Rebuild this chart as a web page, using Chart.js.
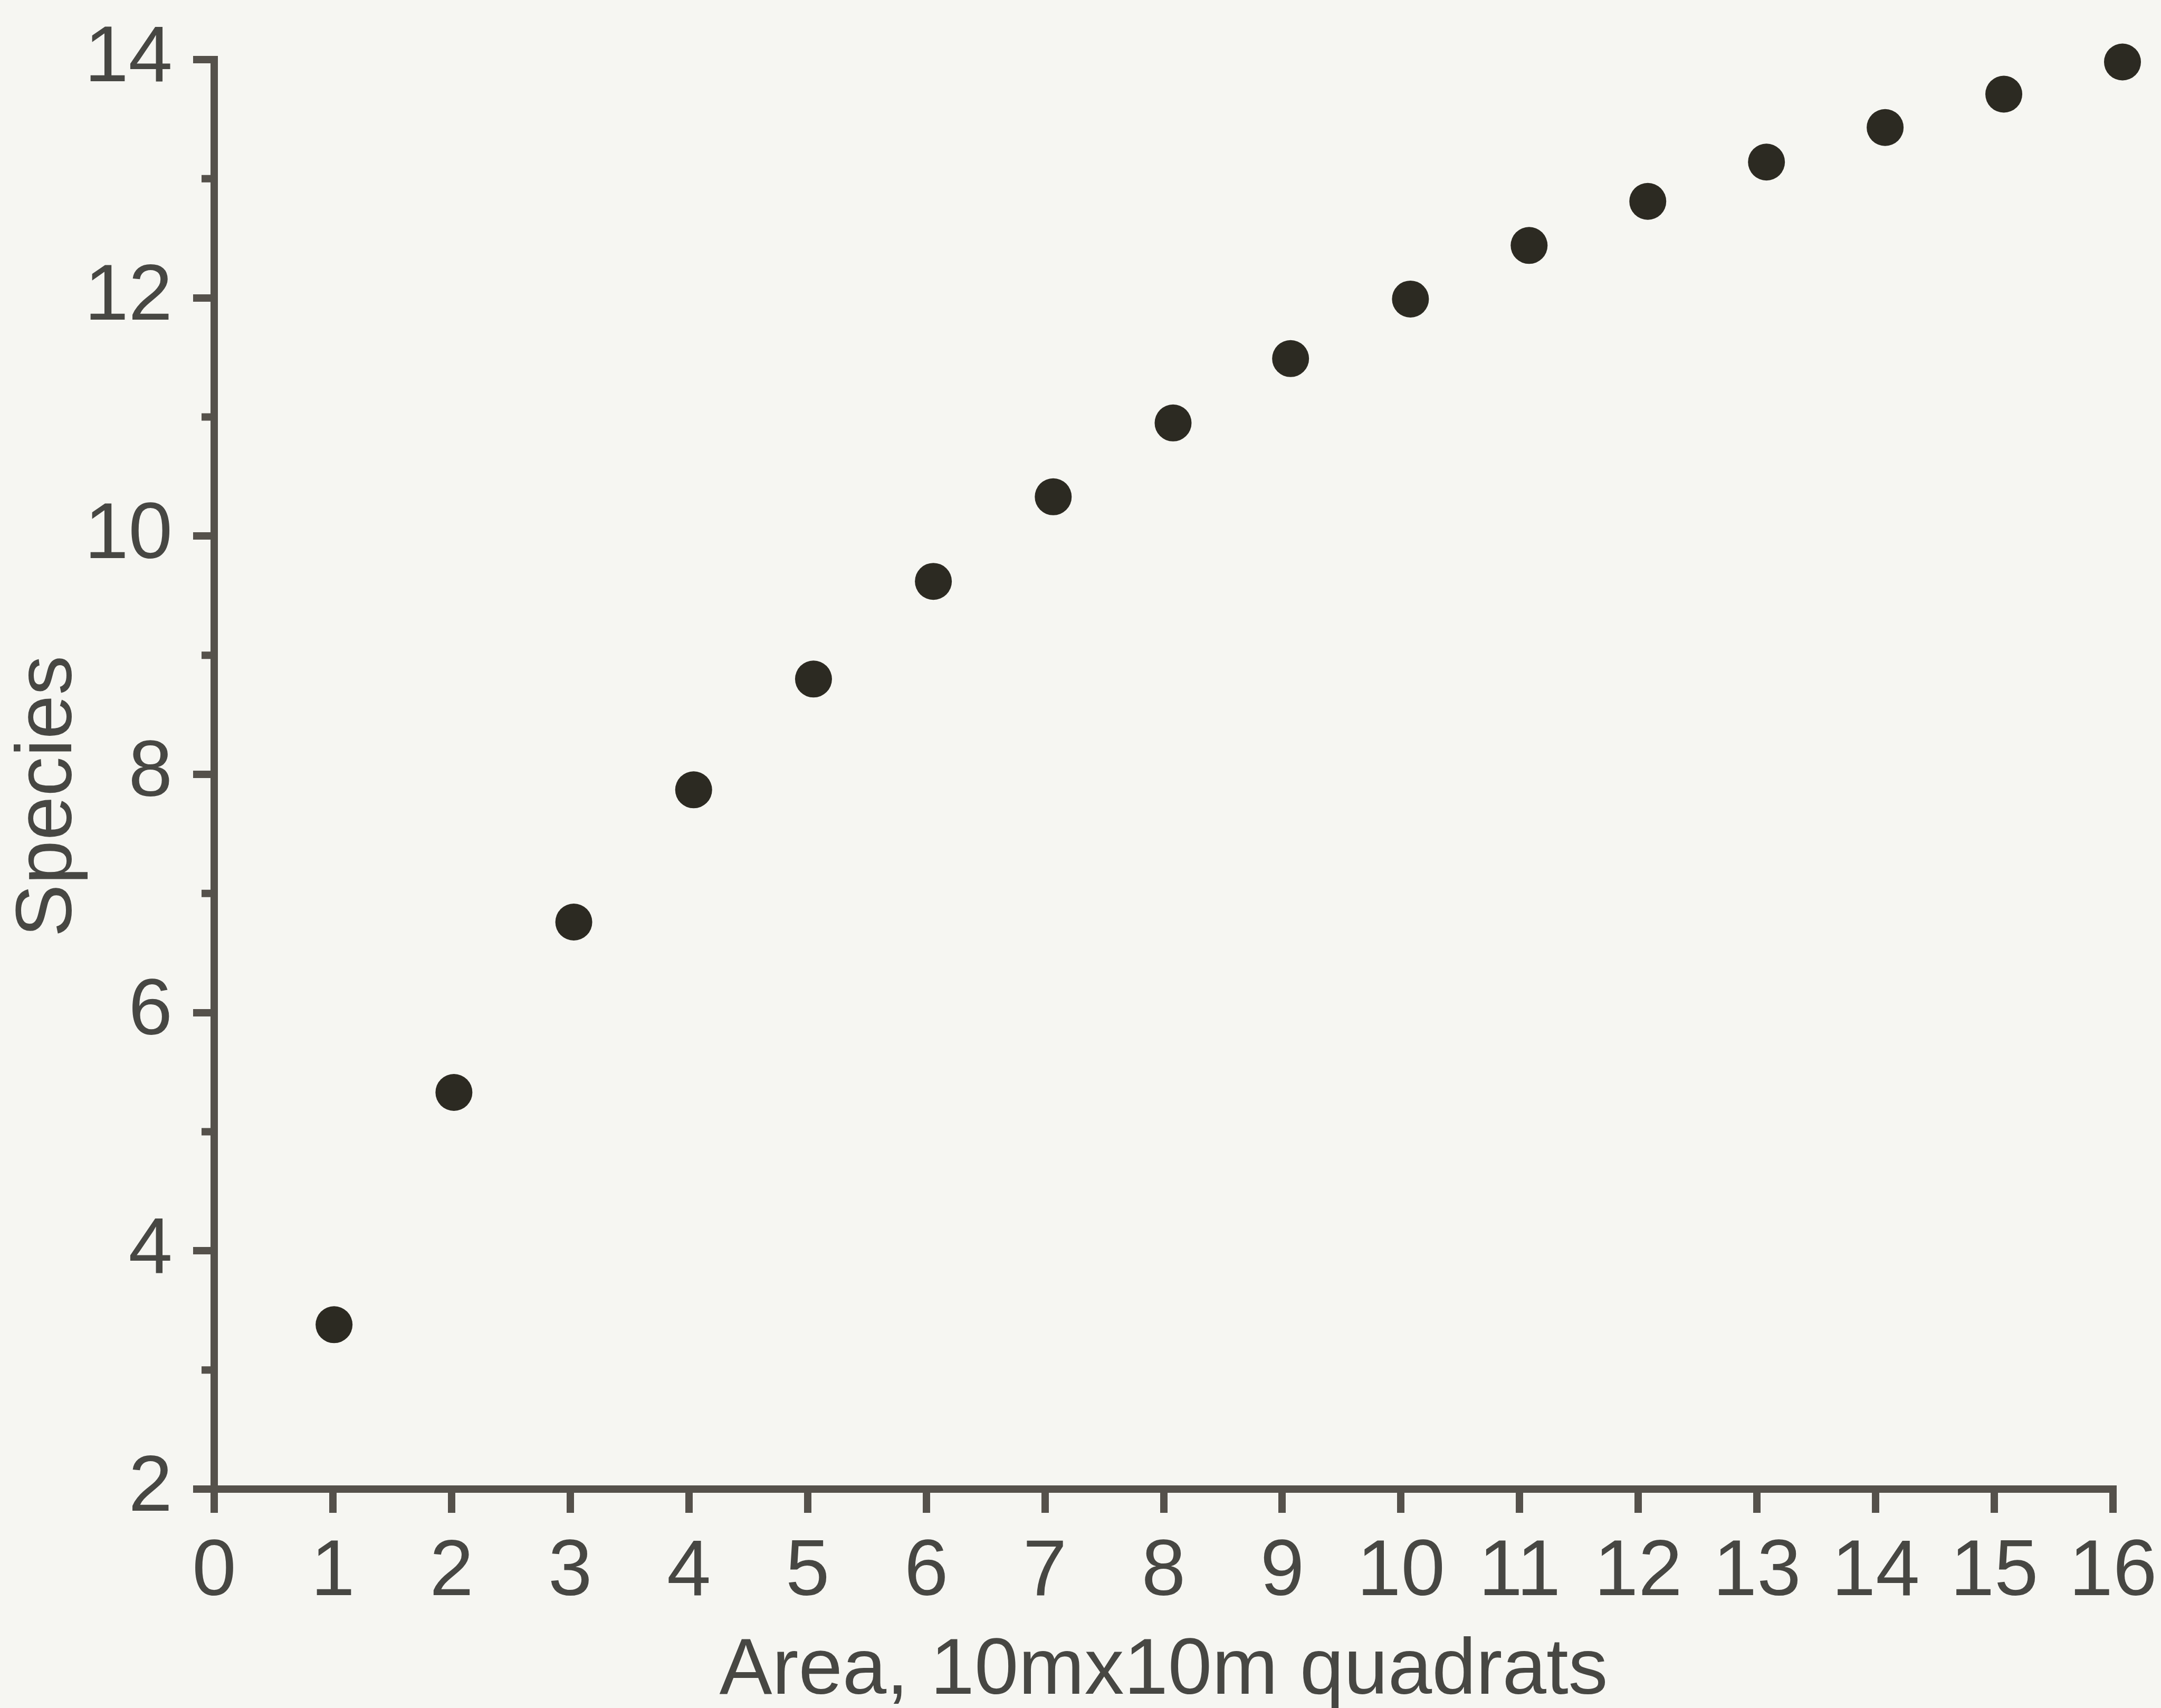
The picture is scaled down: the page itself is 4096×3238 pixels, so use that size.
<!DOCTYPE html>
<html>
<head>
<meta charset="utf-8">
<title>Species-area curve</title>
<script src="https://cdn.jsdelivr.net/npm/chart.js@4"></script>
<style>
  html, body { margin: 0; padding: 0; background: #f6f6f2; }
  canvas { display: block; background: #f6f6f2; }
</style>
</head>
<body>
<canvas id="species-chart" width="4096" height="3238"></canvas>
<script>
"use strict";

// data
const areaValues = [1.01, 2.02, 3.03, 4.04, 5.05, 6.06, 7.07, 8.08, 9.07, 10.08, 11.08, 12.08, 13.08, 14.08, 15.08, 16.08];
const speciesValues = [3.38, 5.33, 6.76, 7.87, 8.8, 9.62, 10.33, 10.95, 11.49, 11.99, 12.44, 12.81, 13.14, 13.43, 13.71, 13.98];

// axis ticks
const xTicks = [0, 1, 2, 3, 4, 5, 6, 7, 8, 9, 10, 11, 12, 13, 14, 15, 16];
const yTicks = [2, 4, 6, 8, 10, 12, 14];
const yMinorTicks = [3, 5, 7, 9, 11, 13];

const xTitle = "Area, 10mx10m quadrats";
const yTitle = "Species";

const TEXT_COLOR = "#474743";
const AXIS_COLOR = "#55514b";
const DOT_COLOR = "#2c2a22";
const FONT = "'Liberation Sans', Arial, sans-serif";

{
  // short unlabeled ticks between the even ones
  const minorTicks = {
    id: "minorTicks",
    afterDraw(chart) {
      const ctx = chart.ctx;
      const yScale = chart.scales.y;
      ctx.save();
      ctx.strokeStyle = AXIS_COLOR;
      ctx.lineWidth = 14;
      ctx.beginPath();
      yMinorTicks.forEach((v) => {
        const py = yScale.getPixelForValue(v);
        ctx.moveTo(yScale.right - 24, py);
        ctx.lineTo(yScale.right, py);
      });
      ctx.stroke();
      ctx.restore();
    },
  };

  const points = areaValues.map((x, i) => ({ x: x, y: speciesValues[i] }));

  new Chart(document.getElementById("species-chart"), {
    type: "scatter",
    data: {
      datasets: [
        {
          data: points,
          backgroundColor: DOT_COLOR,
          borderWidth: 0,
          pointRadius: 35,
          pointHoverRadius: 35,
          clip: false,
        },
      ],
    },
    options: {
      responsive: false,
      devicePixelRatio: 1,
      animation: false,
      events: [],
      layout: {
        padding: { top: 113, right: 91, bottom: 0, left: 0 },
      },
      scales: {
        x: {
          type: "linear",
          min: 0,
          max: 16,
          afterFit: (scale) => {
            scale.height = 415;
            // keep the end labels from pushing the plot area in
            scale.paddingLeft = 0;
            scale.paddingRight = 0;
          },
          afterBuildTicks: (scale) => {
            scale.ticks = xTicks.map((v) => ({ value: v }));
          },
          ticks: {
            autoSkip: false,
            maxRotation: 0,
            padding: 40,
            color: TEXT_COLOR,
            font: { family: FONT, size: 150, lineHeight: 1 },
          },
          grid: {
            drawOnChartArea: false,
            tickLength: 45,
            tickWidth: 14,
            lineWidth: 14,
            tickColor: AXIS_COLOR,
          },
          border: { display: true, width: 14, color: AXIS_COLOR },
          title: {
            display: true,
            text: xTitle,
            color: TEXT_COLOR,
            font: { family: FONT, size: 150, lineHeight: 0.8 },
            padding: { top: 0, bottom: 8 },
          },
        },
        y: {
          type: "linear",
          min: 2,
          max: 14,
          afterFit: (scale) => {
            scale.width = 406;
            scale.paddingTop = 0;
            scale.paddingBottom = 0;
          },
          afterBuildTicks: (scale) => {
            scale.ticks = yTicks.map((v) => ({ value: v }));
          },
          ticks: {
            padding: 39,
            color: TEXT_COLOR,
            font: { family: FONT, size: 150, lineHeight: 1 },
          },
          grid: {
            drawOnChartArea: false,
            tickLength: 40,
            tickWidth: 14,
            lineWidth: 14,
            tickColor: AXIS_COLOR,
          },
          border: { display: true, width: 14, color: AXIS_COLOR },
          title: {
            display: true,
            // trailing spaces nudge the label a little below centre, like the original
            text: yTitle + "  ",
            color: TEXT_COLOR,
            font: { family: FONT, size: 150, lineHeight: 1 },
            padding: { top: 19, bottom: 0 },
          },
        },
      },
      plugins: {
        legend: { display: false },
        tooltip: { enabled: false },
      },
    },
    plugins: [minorTicks],
  });
}
</script>
</body>
</html>
